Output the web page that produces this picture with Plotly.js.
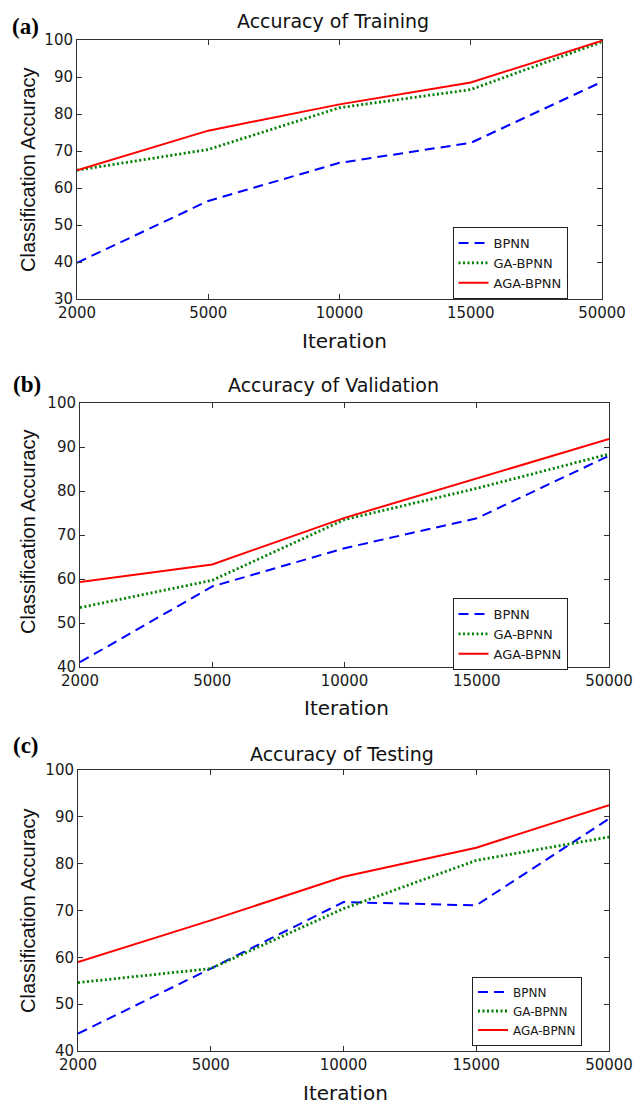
<!DOCTYPE html>
<html>
<head>
<meta charset="utf-8">
<script src="https://cdn.plot.ly/plotly-3.0.1.min.js"></script>
<style>html,body{margin:0;padding:0;background:#fff;}#chart{width:633px;height:1103px;}</style>
</head>
<body>
<div id="chart"></div>
<script>
var iterations = ['2000', '5000', '10000', '15000', '50000'];
var seriesNames = ['BPNN', 'GA-BPNN', 'AGA-BPNN'];
var panelTitles = ['Accuracy of Training', 'Accuracy of Validation', 'Accuracy of Testing'];
var panelLabels = ['(a)', '(b)', '(c)'];

var trainBPNN = [39.8, 56.5, 66.8, 72.2, 88.7];
var trainGA   = [64.8, 70.4, 81.7, 86.6, 99.5];
var trainAGA  = [64.8, 75.5, 82.6, 88.5, 99.8];

var valBPNN = [41.1, 58.3, 67.0, 73.8, 88.0];
var valGA   = [53.5, 59.7, 73.5, 80.6, 88.4];
var valAGA  = [59.3, 63.3, 73.9, 82.9, 91.8];

var testBPNN = [43.7, 57.6, 71.8, 71.1, 89.6];
var testGA   = [54.6, 57.6, 70.4, 80.7, 85.7];
var testAGA  = [59.0, 67.9, 77.2, 83.4, 92.5];

var W = 633, H = 1103;
var styles = [
  {color: '#0000FF', width: 2, dash: '10px,6px'},
  {color: '#008000', width: 2.8, dash: '2px,2.5px'},
  {color: '#FF0000', width: 2, dash: 'solid'}
];
var panels = [
  {data: [trainBPNN, trainGA, trainAGA], yr: [30, 100], px: [77, 602], py: [40, 299],
   title: [333, 21], lab: [25, 27], xt: [344, 341], yt: [28, 170], leg: [510, 263], legFont: 13},
  {data: [valBPNN, valGA, valAGA], yr: [40, 100], px: [80, 609], py: [403, 667],
   title: [333, 385], lab: [27, 384], xt: [346, 708], yt: [28, 532], leg: [510, 634], legFont: 13},
  {data: [testBPNN, testGA, testAGA], yr: [40, 100], px: [78, 609], py: [770, 1051],
   title: [342, 754], lab: [26, 745], xt: [345, 1093], yt: [28, 911], leg: [527, 1011], legFont: 12}
];

var traces = [];
var layout = {
  width: W, height: H,
  margin: {l: 0, r: 0, t: 0, b: 0},
  paper_bgcolor: '#fff', plot_bgcolor: '#fff',
  showlegend: true,
  annotations: []
};

panels.forEach(function (p, i) {
  var sfx = i === 0 ? '' : String(i + 1);
  var legName = 'legend' + sfx;
  seriesNames.forEach(function (name, k) {
    traces.push({
      x: iterations, y: p.data[k], name: name, type: 'scatter', mode: 'lines',
      xaxis: 'x' + sfx, yaxis: 'y' + sfx, legend: legName,
      line: {color: styles[k].color, width: styles[k].width, dash: styles[k].dash},
      hoverinfo: 'x+y+name'
    });
  });
  var axCommon = {
    showline: true, mirror: 'ticks', linecolor: '#303030', linewidth: 1,
    ticks: 'inside', ticklen: 5, tickcolor: '#303030', tickwidth: 1,
    showgrid: false, zeroline: false,
    tickfont: {family: 'DejaVu Sans', size: 15, color: '#1a1a1a'}
  };
  layout['xaxis' + sfx] = Object.assign({}, axCommon, {
    type: 'category', range: [0, 4], anchor: 'y' + sfx,
    domain: [p.px[0] / W, p.px[1] / W]
  });
  layout['yaxis' + sfx] = Object.assign({}, axCommon, {
    range: p.yr, dtick: 10, anchor: 'x' + sfx,
    domain: [1 - p.py[1] / H, 1 - p.py[0] / H]
  });
  layout[legName] = {
    x: p.leg[0] / W, y: 1 - p.leg[1] / H, xanchor: 'center', yanchor: 'middle',
    xref: 'paper', yref: 'paper',
    bgcolor: '#fff', bordercolor: '#202020', borderwidth: 1,
    font: {family: 'DejaVu Sans', size: p.legFont, color: '#1a1a1a'},
    tracegroupgap: 0
  };
  layout.annotations.push(
    {text: panelTitles[i], x: p.title[0] / W, y: 1 - p.title[1] / H, xref: 'paper', yref: 'paper',
     xanchor: 'center', yanchor: 'middle', showarrow: false,
     font: {family: 'DejaVu Sans', size: 19, color: '#111'}},
    {text: '<b>' + panelLabels[i] + '</b>', x: p.lab[0] / W, y: 1 - p.lab[1] / H, xref: 'paper', yref: 'paper',
     xanchor: 'center', yanchor: 'middle', showarrow: false,
     font: {family: 'Liberation Serif', size: 23, color: '#000'}},
    {text: 'Iteration', x: p.xt[0] / W, y: 1 - p.xt[1] / H, xref: 'paper', yref: 'paper',
     xanchor: 'center', yanchor: 'middle', showarrow: false,
     font: {family: 'DejaVu Sans', size: 20, color: '#111'}},
    {text: 'Classification Accuracy', x: p.yt[0] / W, y: 1 - p.yt[1] / H, xref: 'paper', yref: 'paper',
     xanchor: 'center', yanchor: 'middle', showarrow: false, textangle: -90,
     font: {family: 'Liberation Sans', size: 20, color: '#111'}}
  );
});

Plotly.newPlot('chart', traces, layout, {displayModeBar: false, staticPlot: true});
</script>
</body>
</html>
